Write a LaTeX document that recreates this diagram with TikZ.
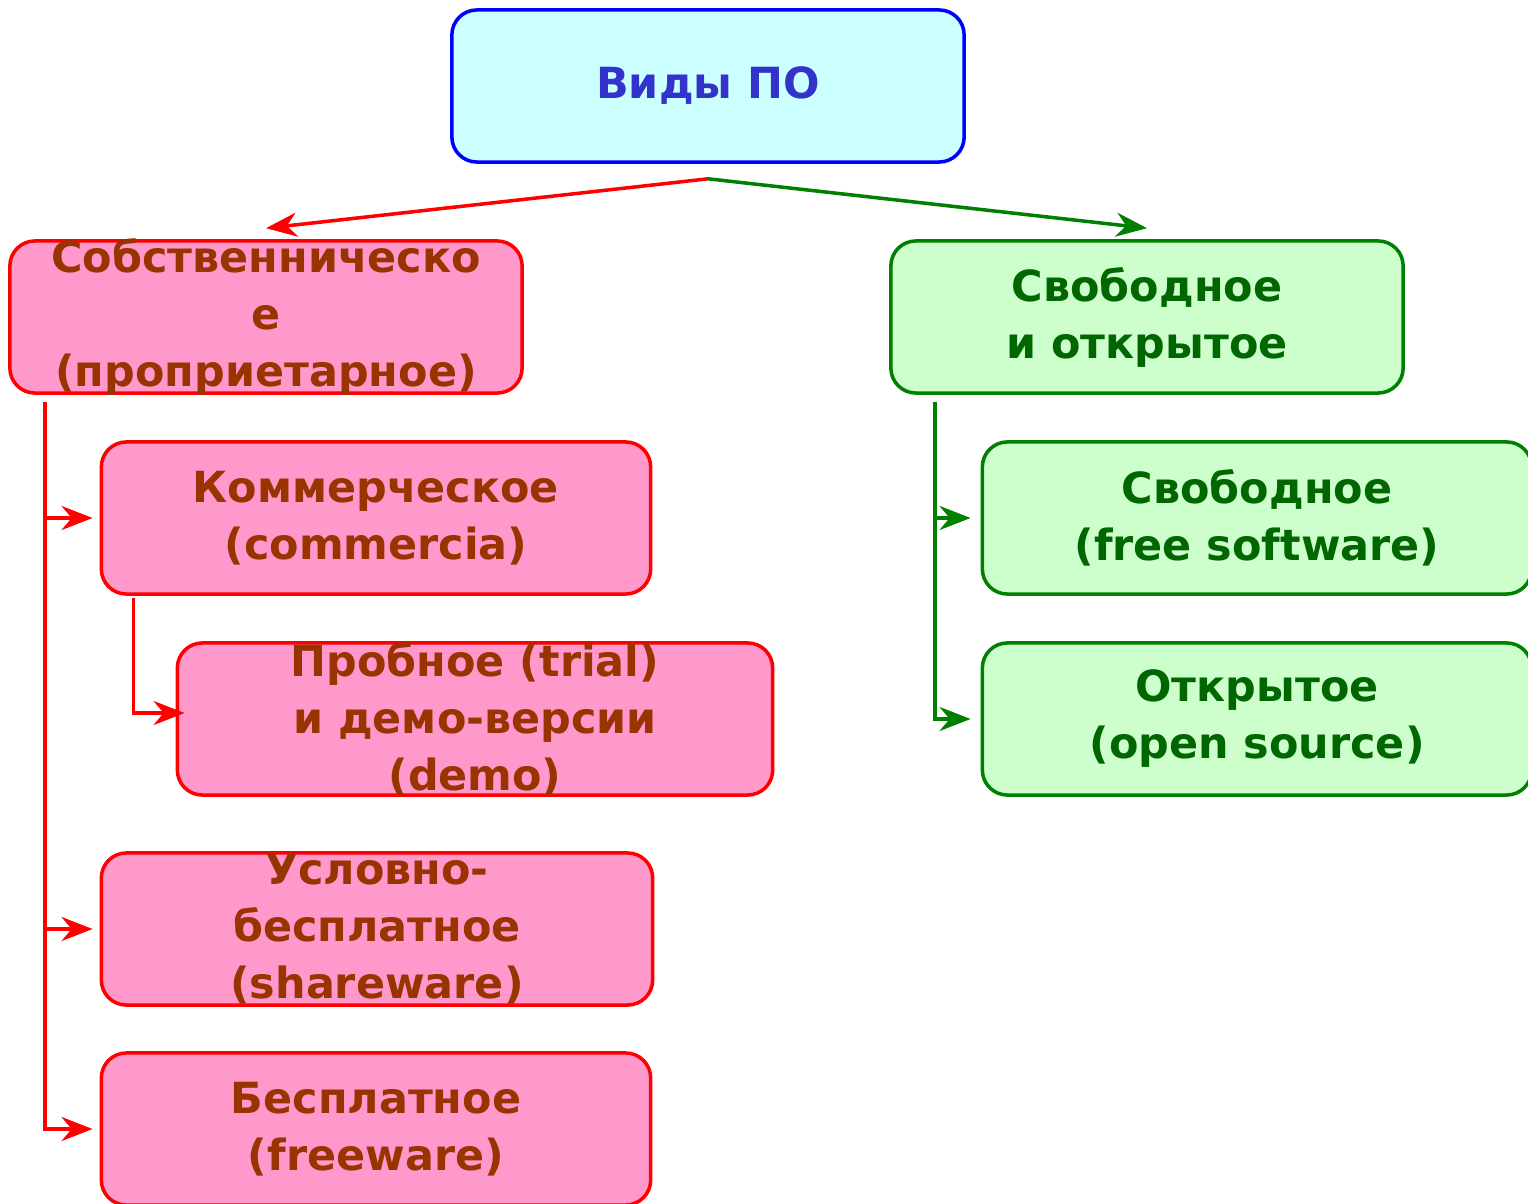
\documentclass[tikz,border=0pt]{standalone}
\usepackage{fontspec}
\setmainfont{DejaVu Sans}
\usetikzlibrary{arrows.meta,positioning}
\definecolor{rootfill}{HTML}{CCFFFF}
\definecolor{rootline}{HTML}{0000FF}
\definecolor{roottext}{HTML}{3333CC}
\definecolor{pinkfill}{HTML}{FF99CC}
\definecolor{pinktext}{HTML}{993300}
\definecolor{greenfill}{HTML}{CCFFCC}
\definecolor{greenline}{HTML}{008000}
\definecolor{greentext}{HTML}{006600}

\begin{document}
\begin{tikzpicture}[x=0.01cm, y=-0.01cm,
   box/.style={rectangle,rounded corners=0.25cm,line width=1pt,align=center,inner xsep=0pt,inner ysep=-3pt,
      minimum height=1.52cm,font=\fontsize{12.2}{16.2}\selectfont\bfseries},
   rootbox/.style={box,draw=rootline,fill=rootfill,text=roottext},
   propbox/.style={box,draw=red,fill=pinkfill,text=pinktext},
   freebox/.style={box,draw=greenline,fill=greenfill,text=greentext},
   redarrow/.style={draw=red,line width=1pt,-{Stealth[length=0.31cm,width=0.24cm]}},
   greenarrow/.style={draw=greenline,line width=1pt,-{Stealth[length=0.31cm,width=0.24cm]}}]
   \useasboundingbox (0,0) rectangle (1528,1204);
   \node[rootbox,minimum width=5.12cm] (root) at (708,86) {Виды ПО};
   \foreach \pos/\name/\boxw/\disp in {{(266,317)/prop/5.12/Собственническо\\е\\(проприетарное)}, {(376,518)/com/5.49/Коммерческое\\(commercia)}, {(475,719)/trial/5.95/Пробное (trial)\\и демо-версии\\(demo)}, {(377,929)/share/5.51/Условно-\\бесплатное\\(shareware)}, {(376,1129)/freew/5.49/Бесплатное\\(freeware)}}
   \node[propbox,minimum width=\boxw cm] (\name) at \pos {\disp};
   \foreach \pos/\name/\boxw/\disp in {{(1147,317)/open/5.12/Свободное\\и открытое}, {(1257,518)/fsw/5.49/Свободное\\(free software)}, {(1257,719)/osrc/5.49/Открытое\\(open source)}}
   \node[freebox,minimum width=\boxw cm] (\name) at \pos {\disp};
   % from the root to both kinds
   \draw[redarrow] ([yshift=-0.15cm]root.south) -- ([yshift=0.11cm]prop.north);
   \draw[greenarrow] ([yshift=-0.15cm]root.south) -- ([yshift=0.11cm]open.north);
   % proprietary branch
   \coordinate (propbus) at ([xshift=0.37cm,yshift=-0.07cm]prop.south west);
   \foreach \dest in {com, share, freew}
   \draw[redarrow,shorten >=0.07cm] (propbus) |- (\dest.west);
   \coordinate (combus) at ([xshift=0.34cm,yshift=-0.02cm]com.south west);
   \draw[redarrow,shorten >=-0.09cm] (combus) |- ([yshift=0.06cm]trial.west);
   % free branch
   \coordinate (openbus) at ([xshift=0.46cm,yshift=-0.07cm]open.south west);
   \foreach \dest in {fsw, osrc}
   \draw[greenarrow,shorten >=0.1cm] (openbus) |- (\dest.west);
\end{tikzpicture}
\end{document}
